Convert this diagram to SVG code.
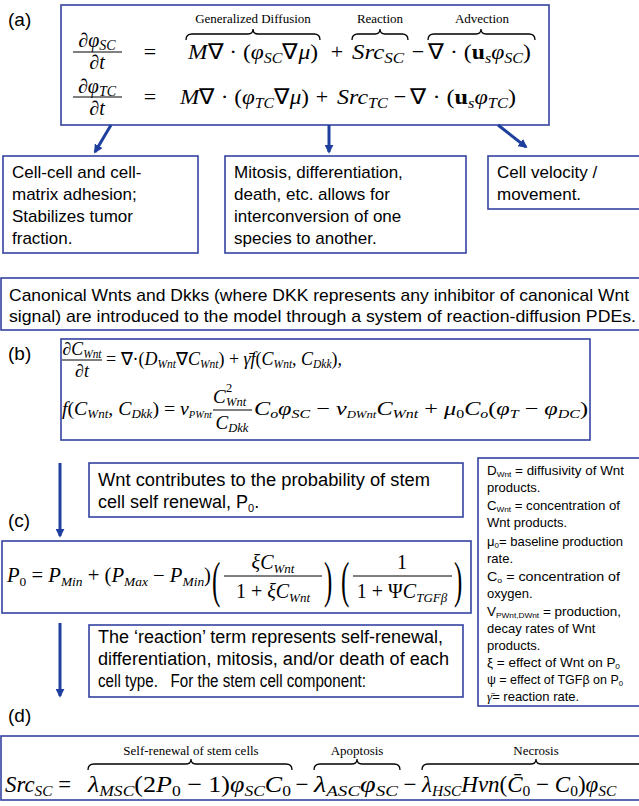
<svg xmlns="http://www.w3.org/2000/svg" width="639" height="806" viewBox="0 0 639 806">
<style>
.box{fill:#fff;stroke:#3443a0;stroke-width:1.6}
.t{font-family:"Liberation Sans",Arial,sans-serif;fill:#000}
.tb{font-size:17px}
.lab{font-size:19px}
.lg{font-size:13px}
.m{font-family:"Liberation Serif","Times New Roman",serif;font-style:italic;font-size:22px;fill:#000}
.mf{font-size:20px}
.mb{font-size:19px}
.m1{font-size:18px}
.mc{font-size:20px}
.md{font-size:23px}
.u{font-style:normal}
.bf{font-style:normal;font-weight:bold}
.s{font-size:15px}
.sf{font-size:14px}
.sb{font-size:12.5px}
.s1{font-size:11.5px}
.sc{font-size:13px}
.ss{font-size:10px}
.sd{font-size:15.5px}
.big{font-size:50px;font-style:normal}
.ann{font-family:"Liberation Serif","Times New Roman",serif;font-size:13px;fill:#000}
.br{fill:none;stroke:#000;stroke-width:1.3}
.bar{stroke:#000;stroke-width:1}
.conn path{stroke:#1f3f9f;stroke-width:3;fill:none;marker-end:url(#ah)}
</style>
<defs>
<marker id="ah" viewBox="0 0 10 10" refX="8" refY="5" markerWidth="3" markerHeight="3" orient="auto"><path d="M0,0 L10,5 L0,10 z" fill="#1f3f9f"/></marker>
</defs>

<g id="labels">
<text class="t lab" x="8" y="26">(a)</text>
<text class="t lab" x="8" y="360">(b)</text>
<text class="t lab" x="8" y="527">(c)</text>
<text class="t lab" x="8" y="722">(d)</text>
</g>

<g id="eqA">
<rect class="box" x="61" y="5" width="488" height="120"/>
<text class="ann" x="253" y="23" text-anchor="middle">Generalized Diffusion</text>
<text class="ann" x="380" y="23" text-anchor="middle">Reaction</text>
<text class="ann" x="482" y="23" text-anchor="middle">Advection</text>
<path class="br" d="M186,40 Q186,34 192,34 L248,34 Q253,34 253,29 Q253,34 258,34 L314,34 Q320,34 320,40"/>
<path class="br" d="M352,40 Q352,34 358,34 L375,34 Q380,34 380,29 Q380,34 385,34 L402,34 Q408,34 408,40"/>
<path class="br" d="M428,40 Q428,34 434,34 L476,34 Q481,34 481,29 Q481,34 486,34 L529,34 Q535,34 535,40"/>
<text class="m mf" x="97" y="47" text-anchor="middle"><tspan class="u">∂</tspan>φ<tspan class="sf" dy="3">SC</tspan></text>
<line class="bar" x1="73" y1="52" x2="122" y2="52"/>
<text class="m mf" x="97" y="69" text-anchor="middle"><tspan class="u">∂</tspan>t</text>
<text class="m u" x="150" y="59" text-anchor="middle">=</text>
<text class="m" x="188" y="59" textLength="130" lengthAdjust="spacingAndGlyphs">M<tspan class="u">∇ · (</tspan>φ<tspan class="s" dy="4">SC</tspan><tspan class="u" dy="-4">∇</tspan>μ<tspan class="u">)</tspan></text>
<text class="m u" x="337" y="59" text-anchor="middle">+</text>
<text class="m" x="352" y="59" textLength="52" lengthAdjust="spacingAndGlyphs">Src<tspan class="s" dy="4">SC</tspan></text>
<text class="m u" x="418" y="59" text-anchor="middle">−</text>
<text class="m" x="428" y="59" textLength="103" lengthAdjust="spacingAndGlyphs"><tspan class="u">∇ · (</tspan><tspan class="bf">u</tspan><tspan class="s" dy="4">s</tspan><tspan dy="-4">φ</tspan><tspan class="s" dy="4">SC</tspan><tspan class="u" dy="-4">)</tspan></text>

<text class="m mf" x="97" y="93" text-anchor="middle"><tspan class="u">∂</tspan>φ<tspan class="sf" dy="3">TC</tspan></text>
<line class="bar" x1="73" y1="97" x2="122" y2="97"/>
<text class="m mf" x="97" y="115" text-anchor="middle"><tspan class="u">∂</tspan>t</text>
<text class="m u" x="150" y="104" text-anchor="middle">=</text>
<text class="m" x="180" y="104" textLength="129" lengthAdjust="spacingAndGlyphs">M<tspan class="u">∇ · (</tspan>φ<tspan class="s" dy="4">TC</tspan><tspan class="u" dy="-4">∇</tspan>μ<tspan class="u">)</tspan></text>
<text class="m u" x="322" y="104" text-anchor="middle">+</text>
<text class="m" x="337" y="104" textLength="51" lengthAdjust="spacingAndGlyphs">Src<tspan class="s" dy="4">TC</tspan></text>
<text class="m u" x="400" y="104" text-anchor="middle">−</text>
<text class="m" x="410" y="104" textLength="106" lengthAdjust="spacingAndGlyphs"><tspan class="u">∇ · (</tspan><tspan class="bf">u</tspan><tspan class="s" dy="4">s</tspan><tspan dy="-4">φ</tspan><tspan class="s" dy="4">TC</tspan><tspan class="u" dy="-4">)</tspan></text>
</g>

<g id="box1">
<rect class="box" x="3" y="156" width="195" height="97"/>
<text class="t tb" x="12" y="178">Cell-cell and cell-</text>
<text class="t tb" x="12" y="200">matrix adhesion;</text>
<text class="t tb" x="12" y="222">Stabilizes tumor</text>
<text class="t tb" x="12" y="244">fraction.</text>
</g>
<g id="box2">
<rect class="box" x="225" y="156" width="241" height="97"/>
<text class="t tb" x="234" y="178">Mitosis, differentiation,</text>
<text class="t tb" x="234" y="200">death, etc. allows for</text>
<text class="t tb" x="234" y="222">interconversion of one</text>
<text class="t tb" x="234" y="244">species to another.</text>
</g>
<g id="box3">
<rect class="box" x="488" y="156" width="160" height="53"/>
<text class="t tb" x="497" y="178">Cell velocity /</text>
<text class="t tb" x="497" y="200">movement.</text>
</g>

<g id="wntIntro">
<rect class="box" x="1" y="278" width="650" height="52"/>
<text class="t tb" x="9" y="301" textLength="620" lengthAdjust="spacingAndGlyphs">Canonical Wnts and Dkks (where DKK represents any inhibitor of canonical Wnt</text>
<text class="t tb" x="9" y="322" textLength="627" lengthAdjust="spacingAndGlyphs">signal) are introduced to the model through a system of reaction-diffusion PDEs.</text>
</g>

<g id="eqB">
<rect class="box" x="61" y="339" width="529" height="101"/>
<text class="m m1" x="82" y="355" text-anchor="middle" textLength="39" lengthAdjust="spacingAndGlyphs"><tspan class="u">∂</tspan>C<tspan class="s1" dy="3">Wnt</tspan></text>
<line class="bar" x1="62" y1="360" x2="102" y2="360"/>
<text class="m m1" x="82" y="377" text-anchor="middle"><tspan class="u">∂</tspan>t</text>
<text class="m m1" x="106" y="365" textLength="236" lengthAdjust="spacingAndGlyphs"><tspan class="u">= ∇·(</tspan>D<tspan class="s1" dy="3">Wnt</tspan><tspan class="u" dy="-3">∇</tspan>C<tspan class="s1" dy="3">Wnt</tspan><tspan class="u" dy="-3">) + </tspan>γ̄f<tspan class="u">(</tspan>C<tspan class="s1" dy="3">Wnt</tspan><tspan class="u" dy="-3">, </tspan>C<tspan class="s1" dy="3">Dkk</tspan><tspan class="u" dy="-3">),</tspan></text>
<text class="m mb" x="62" y="415" textLength="150" lengthAdjust="spacingAndGlyphs">f<tspan class="u">(</tspan>C<tspan class="sb" dy="3">Wnt</tspan><tspan class="u" dy="-3">, </tspan>C<tspan class="sb" dy="3">Dkk</tspan><tspan class="u" dy="-3">) = </tspan>ν<tspan class="ss" dy="3">PWnt</tspan></text>
<text class="m mb" x="213" y="403">C</text>
<text class="m sb u" x="226" y="392">2</text>
<text class="m sb" x="226" y="406">Wnt</text>
<line class="bar" x1="213" y1="410" x2="252" y2="410"/>
<text class="m mb" x="232" y="429" text-anchor="middle">C<tspan class="sb" dy="3">Dkk</tspan></text>
<text class="m mb" x="254" y="415" textLength="334" lengthAdjust="spacingAndGlyphs">C<tspan class="sb" dy="3">o</tspan><tspan dy="-3">φ</tspan><tspan class="sb" dy="3">SC</tspan><tspan class="u" dy="-3"> − </tspan>ν<tspan class="ss" dy="3">DWnt</tspan><tspan dy="-3">C</tspan><tspan class="sb" dy="3">Wnt</tspan><tspan class="u" dy="-3"> + </tspan>μ<tspan class="sb u" dy="3">0</tspan><tspan dy="-3">C</tspan><tspan class="sb" dy="3">o</tspan><tspan class="u" dy="-3">(</tspan>φ<tspan class="sb" dy="3">T</tspan><tspan class="u" dy="-3"> − </tspan>φ<tspan class="sb" dy="3">DC</tspan><tspan class="u" dy="-3">)</tspan></text>
</g>

<g id="wntP0">
<rect class="box" x="89" y="463" width="374" height="54"/>
<text class="t" font-size="18" x="98" y="486" textLength="332" lengthAdjust="spacingAndGlyphs">Wnt contributes to the probability of stem</text>
<text class="t" font-size="18" x="98" y="508">cell self renewal, P<tspan font-size="11" dy="4">0</tspan><tspan dy="-4">.</tspan></text>
</g>

<g id="eqC">
<rect class="box" x="2" y="541" width="469" height="72"/>
<text class="m mc" x="7" y="582" textLength="204" lengthAdjust="spacingAndGlyphs">P<tspan class="sc u" dy="4">0</tspan><tspan class="u" dy="-4"> = </tspan>P<tspan class="sc" dy="4">Min</tspan><tspan class="u" dy="-4"> + (</tspan>P<tspan class="sc" dy="4">Max</tspan><tspan class="u" dy="-4"> − </tspan>P<tspan class="sc" dy="4">Min</tspan><tspan class="u" dy="-4">)</tspan></text>
<text class="m big" transform="translate(212,597) scale(0.5,1)" x="0" y="0">(</text>
<text class="m mc" x="273" y="569" text-anchor="middle">ξC<tspan class="sc" dy="4">Wnt</tspan></text>
<line class="bar" x1="224" y1="576" x2="322" y2="576"/>
<text class="m mc" x="273" y="598" text-anchor="middle"><tspan class="u">1 + </tspan>ξC<tspan class="sc" dy="4">Wnt</tspan></text>
<text class="m big" transform="translate(324,597) scale(0.5,1)" x="0" y="0">)</text>
<text class="m big" transform="translate(341,597) scale(0.5,1)" x="0" y="0">(</text>
<text class="m mc u" x="402" y="569" text-anchor="middle">1</text>
<line class="bar" x1="353" y1="576" x2="452" y2="576"/>
<text class="m mc" x="402" y="598" text-anchor="middle"><tspan class="u">1 + Ψ</tspan>C<tspan class="sc" dy="4">TGFβ</tspan></text>
<text class="m big" transform="translate(454,597) scale(0.5,1)" x="0" y="0">)</text>
</g>

<g id="legend">
<rect class="box" x="478" y="458" width="170" height="248"/>
<text class="t lg" x="487" y="475" textLength="137" lengthAdjust="spacingAndGlyphs">D<tspan font-size="8" dy="1.5">Wnt</tspan><tspan dy="-1.5"> = diffusivity of Wnt</tspan></text>
<text class="t lg" x="487" y="492">products.</text>
<text class="t lg" x="487" y="510" textLength="133" lengthAdjust="spacingAndGlyphs">C<tspan font-size="8" dy="1.5">Wnt</tspan><tspan dy="-1.5"> = concentration of</tspan></text>
<text class="t lg" x="487" y="527">Wnt products.</text>
<text class="t lg" x="487" y="546" textLength="136" lengthAdjust="spacingAndGlyphs">μ<tspan font-size="8" dy="1.5">0</tspan><tspan dy="-1.5">= baseline production</tspan></text>
<text class="t lg" x="487" y="563">rate.</text>
<text class="t lg" x="487" y="581" textLength="133" lengthAdjust="spacingAndGlyphs">C<tspan font-size="8" dy="1.5">o</tspan><tspan dy="-1.5"> = concentration of</tspan></text>
<text class="t lg" x="487" y="598">oxygen.</text>
<text class="t lg" x="487" y="616" textLength="134" lengthAdjust="spacingAndGlyphs">V<tspan font-size="8" dy="1.5">PWnt,DWnt</tspan><tspan dy="-1.5"> = production,</tspan></text>
<text class="t lg" x="487" y="633">decay rates of Wnt</text>
<text class="t lg" x="487" y="650">products.</text>
<text class="t lg" x="487" y="667" textLength="133" lengthAdjust="spacingAndGlyphs">ξ = effect of Wnt on P<tspan font-size="8" dy="1.5">0</tspan></text>
<text class="t lg" x="487" y="684" textLength="136" lengthAdjust="spacingAndGlyphs">ψ = effect of TGFβ on P<tspan font-size="8" dy="1.5">0</tspan></text>
<text class="t lg" x="487" y="701"><tspan font-family="Liberation Serif, serif" font-style="italic">γ̄</tspan>=  reaction rate.</text>
</g>

<g id="reaction">
<rect class="box" x="89" y="625" width="374" height="72"/>
<text class="t" font-size="18" x="98" y="643" textLength="345" lengthAdjust="spacingAndGlyphs">The ‘reaction’ term represents self-renewal,</text>
<text class="t" font-size="18" x="98" y="665" textLength="351" lengthAdjust="spacingAndGlyphs">differentiation, mitosis, and/or death of each</text>
<text class="t" font-size="18" x="98" y="687" textLength="268" lengthAdjust="spacingAndGlyphs" xml:space="preserve">cell type.   For the stem cell component:</text>
</g>

<g id="eqD">
<rect class="box" x="1" y="736" width="660" height="64"/>
<text class="ann" x="191" y="755" text-anchor="middle">Self-renewal of stem cells</text>
<text class="ann" x="357" y="755" text-anchor="middle">Apoptosis</text>
<text class="ann" x="536" y="755" text-anchor="middle">Necrosis</text>
<path class="br" d="M88,770 Q88,764 94,764 L186,764 Q191,764 191,759 Q191,764 196,764 L286,764 Q292,764 292,770"/>
<path class="br" d="M314,770 Q314,764 320,764 L352,764 Q357,764 357,759 Q357,764 362,764 L394,764 Q400,764 400,770"/>
<path class="br" d="M422,770 Q422,764 428,764 L531,764 Q536,764 536,759 Q536,764 541,764 L644,764 Q650,764 650,770"/>
<text class="m md" x="5" y="792" textLength="66" lengthAdjust="spacingAndGlyphs">Src<tspan class="sd" dy="4">SC</tspan><tspan class="u" dy="-4"> =</tspan></text>
<text class="m md" x="88" y="792" textLength="203" lengthAdjust="spacingAndGlyphs">λ<tspan class="sd" dy="4">MSC</tspan><tspan class="u" dy="-4">(2</tspan>P<tspan class="sd u" dy="4">0</tspan><tspan class="u" dy="-4"> − 1)</tspan>φ<tspan class="sd" dy="4">SC</tspan><tspan dy="-4">C</tspan><tspan class="sd u" dy="4">0</tspan></text>
<text class="m md u" x="302" y="792" text-anchor="middle">−</text>
<text class="m md" x="314" y="792" textLength="84" lengthAdjust="spacingAndGlyphs">λ<tspan class="sd" dy="4">ASC</tspan><tspan dy="-4">φ</tspan><tspan class="sd" dy="4">SC</tspan></text>
<text class="m md u" x="410" y="792" text-anchor="middle">−</text>
<text class="m md" x="422" y="792">λ<tspan class="sd" dy="4">HSC</tspan><tspan dy="-4">Hvn</tspan><tspan class="u">(</tspan>C̄<tspan class="sd u" dy="4">0</tspan><tspan class="u" dy="-4"> − </tspan>C<tspan class="sd u" dy="4">0</tspan><tspan class="u" dy="-4">)</tspan>φ<tspan class="sd" dy="4">SC</tspan></text>
</g>

<g id="connectors" class="conn">
<path d="M111,125 L95,152"/>
<path d="M329,125 L329,152"/>
<path d="M498,125 L526,147"/>
<path d="M60,463 L60,536"/>
<path d="M60,623 L60,696"/>
</g>
</svg>
